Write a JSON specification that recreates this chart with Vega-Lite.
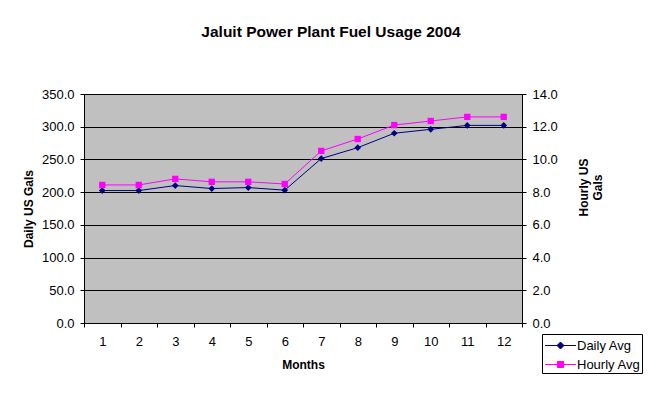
{
  "$schema": "https://vega.github.io/schema/vega-lite/v6.json",
  "autosize": "none",
  "width": 438,
  "height": 229,
  "padding": {"left": 84, "top": 94, "right": 141, "bottom": 70},
  "background": "white",
  "title": {
    "text": "Jaluit Power Plant Fuel Usage 2004",
    "font": "Liberation Sans",
    "fontSize": 15.5,
    "fontWeight": "bold",
    "color": "black",
    "anchor": "middle",
    "dx": 28,
    "offset": 48
  },
  "data": {
    "values": [
      {"month": 1, "daily": 202.4, "hourly": 8.44},
      {"month": 2, "daily": 202.4, "hourly": 8.44},
      {"month": 3, "daily": 210.1, "hourly": 8.81},
      {"month": 4, "daily": 205.5, "hourly": 8.63},
      {"month": 5, "daily": 207.0, "hourly": 8.63},
      {"month": 6, "daily": 203.0, "hourly": 8.5},
      {"month": 7, "daily": 251.3, "hourly": 10.52},
      {"month": 8, "daily": 268.0, "hourly": 11.25},
      {"month": 9, "daily": 290.0, "hourly": 12.1},
      {"month": 10, "daily": 296.0, "hourly": 12.35},
      {"month": 11, "daily": 302.0, "hourly": 12.6},
      {"month": 12, "daily": 302.0, "hourly": 12.6}
    ]
  },
  "encoding": {
    "x": {
      "field": "month",
      "type": "ordinal",
      "scale": {"paddingInner": 0, "paddingOuter": 0},
      "axis": {
        "title": "Months",
        "labelAngle": 0,
        "tickBand": "extent",
        "grid": false,
        "domain": true,
        "domainColor": "black",
        "tickColor": "black",
        "tickSize": 4,
        "labelPadding": 8,
        "labelFont": "Liberation Sans",
        "labelFontSize": 13,
        "labelColor": "black",
        "titleFont": "Liberation Sans",
        "titleFontSize": 12,
        "titleFontWeight": "bold",
        "titleColor": "black",
        "titlePadding": 11
      }
    }
  },
  "layer": [
    {
      "encoding": {
        "y": {
          "field": "daily",
          "type": "quantitative",
          "scale": {"domain": [0, 350], "nice": false},
          "axis": {
            "title": "Daily US Gals",
            "orient": "left",
            "values": [0, 50, 100, 150, 200, 250, 300, 350],
            "format": ".1f",
            "grid": true,
            "gridColor": "black",
            "gridOpacity": 1,
            "gridWidth": 1,
            "domainColor": "black",
            "tickColor": "black",
            "tickSize": 4,
            "labelPadding": 6,
            "labelFont": "Liberation Sans",
            "labelFontSize": 13,
            "labelColor": "black",
            "titleFont": "Liberation Sans",
            "titleFontSize": 12,
            "titleFontWeight": "bold",
            "titleColor": "black",
            "titlePadding": 6
          }
        }
      },
      "layer": [
        {"mark": {"type": "line", "color": "#000080", "strokeWidth": 1}, "encoding": {}},
        {
          "mark": {"type": "point", "shape": "diamond", "filled": true, "size": 45, "opacity": 1},
          "encoding": {
            "color": {
              "datum": "Daily Avg",
              "type": "nominal",
              "scale": {"domain": ["Daily Avg", "Hourly Avg"], "range": ["#000080", "#FF00FF"]},
              "legend": {
                "title": null,
                "orient": "none",
                "legendX": 458,
                "legendY": 240,
                "strokeColor": "black",
                "fillColor": "white",
                "padding": 1,
                "rowPadding": 1,
                "symbolSize": 400,
                "symbolOffset": 7,
                "symbolStrokeWidth": 1,
                "symbolType": {"expr": "datum.value === 'Daily Avg' ? 'M-1.55,0H1.55M0,-0.35L0.35,0L0,0.35L-0.35,0Z' : 'M-1.55,0H1.55M-0.3,-0.3H0.3V0.3H-0.3Z'"},
                "symbolStrokeColor": {"expr": "scale('color', datum.value)"},
                "labelFont": "Liberation Sans",
                "labelFontSize": 13,
                "labelColor": "black",
                "labelOffset": 6,
                "cornerRadius": 0
              }
            }
          }
        }
      ]
    },
    {
      "encoding": {
        "y": {
          "field": "hourly",
          "type": "quantitative",
          "scale": {"domain": [0, 14], "nice": false},
          "axis": {
            "title": ["Hourly US", "Gals"],
            "orient": "right",
            "values": [0, 2, 4, 6, 8, 10, 12, 14],
            "format": ".1f",
            "grid": false,
            "domainColor": "black",
            "tickColor": "black",
            "tickSize": 4,
            "labelPadding": 6,
            "labelFont": "Liberation Sans",
            "labelFontSize": 13,
            "labelColor": "black",
            "titleFont": "Liberation Sans",
            "titleFontSize": 12,
            "titleFontWeight": "bold",
            "titleColor": "black",
            "titleAngle": 270,
            "titlePadding": 19,
            "titleY": 93
          }
        }
      },
      "layer": [
        {"mark": {"type": "line", "color": "#FF00FF", "strokeWidth": 1}, "encoding": {}},
        {
          "mark": {"type": "point", "shape": "square", "filled": true, "size": 40, "opacity": 1},
          "encoding": {"color": {"datum": "Hourly Avg", "type": "nominal"}}
        }
      ]
    }
  ],
  "resolve": {"scale": {"y": "independent"}},
  "config": {
    "view": {"fill": "#C0C0C0", "stroke": "black", "strokeWidth": 1}
  }
}
